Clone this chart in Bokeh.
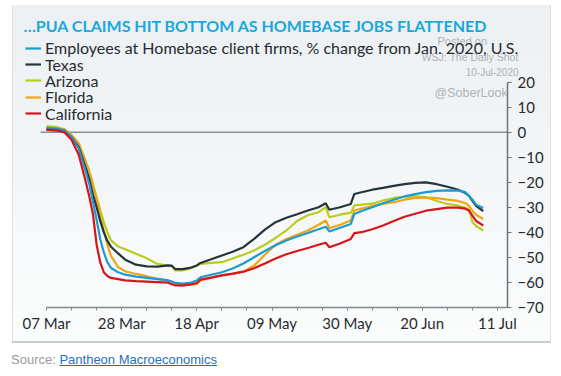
import pandas as pd
from bokeh.plotting import figure
from bokeh.models import (Range1d, FixedTicker, DatetimeTickFormatter, DatetimeAxis, LinearAxis,
                          Label, Legend, LegendItem, Div)
from bokeh.layouts import column
from bokeh.embed import file_html
from bokeh.resources import INLINE

# ---------------- data ----------------
dates = ["2020-03-07", "2020-03-10", "2020-03-12", "2020-03-14", "2020-03-16", "2020-03-18",
         "2020-03-19", "2020-03-20", "2020-03-21", "2020-03-22", "2020-03-23", "2020-03-24",
         "2020-03-25", "2020-03-27", "2020-03-29", "2020-04-01", "2020-04-04", "2020-04-07",
         "2020-04-10", "2020-04-11", "2020-04-12", "2020-04-14", "2020-04-16", "2020-04-18",
         "2020-04-19", "2020-04-22", "2020-04-25", "2020-04-28", "2020-05-01", "2020-05-04",
         "2020-05-07", "2020-05-10", "2020-05-13", "2020-05-16", "2020-05-19", "2020-05-22",
         "2020-05-24", "2020-05-25", "2020-05-28", "2020-05-31", "2020-06-01", "2020-06-03",
         "2020-06-06", "2020-06-09", "2020-06-12", "2020-06-15", "2020-06-18", "2020-06-21",
         "2020-06-24", "2020-06-27", "2020-06-30", "2020-07-02", "2020-07-03", "2020-07-04",
         "2020-07-05", "2020-07-07"]

us = [1.7, 1.4, 0.8, -1.8, -6.5, -16, -21, -28, -35, -42.7, -48, -52, -54.3, -56, -57, -57.8,
      -58.3, -58.8, -59.3, -59.7, -60.3, -60.6, -60.3, -59.3, -58, -57, -56, -54.5, -52.5, -50,
      -47.5, -45.2, -43.3, -41.7, -40.3, -38.8, -37.8, -39.7, -38.2, -36.7, -32.7, -31.5, -30,
      -28.4, -27, -25.7, -24.8, -24, -23.5, -23.3, -23.4, -24, -25.5, -27, -29, -30.3]

texas = [0.9, 0.7, 0, -2, -6, -14.5, -19, -25, -30, -35.5, -40, -43.5, -45.8, -48.5, -51, -53,
         -53.7, -53.8, -53.3, -53.4, -54.8, -54.8, -54.3, -53.3, -52.3, -50.8, -49.3, -47.8, -46,
         -42.7, -39, -36, -34.2, -32.8, -31.3, -30, -28.4, -31, -30, -28.7, -24.7, -24, -23,
         -22.3, -21.5, -20.8, -20.3, -20.1, -20.8, -21.8, -23, -24.3, -25.5, -27.5, -29.5, -31.6]

arizona = [2.4, 2, 1.2, -1.2, -4.5, -12, -16, -21, -26, -31, -36, -40, -43.3, -45.7, -46.8,
           -48.6, -50.4, -52.7, -53.5, -53.6, -55.3, -55.3, -54.6, -53.3, -52.7, -52.3, -52,
           -50.5, -49, -47.3, -45, -42.3, -39.3, -35.5, -33.2, -32, -30, -34, -33, -32.2, -29.3,
           -29, -28.6, -27.3, -26.3, -25.8, -25.7, -26, -27.5, -28.7, -29.4, -30.2, -31, -36,
           -37.5, -39.3]

florida = [1.5, 1.5, 1, -1.2, -4.5, -12, -16, -21, -27, -33, -39.5, -45, -49.5, -54, -55.6,
           -56.7, -57.6, -58.6, -59.3, -59.8, -61, -61.4, -61, -60.8, -59.3, -58.2, -57.3, -56.7,
           -55.8, -53.3, -49, -45, -42.7, -41, -39.3, -37, -35.3, -38.4, -37, -35.3, -31.3,
           -30.5, -29.5, -28.7, -28, -27, -26.3, -26.2, -26.4, -27, -27.5, -28.4, -29.5, -31.5,
           -33, -34.7]

california = [1.0, 0.8, 0, -3, -9, -20, -26, -33, -45, -52, -56, -57.5, -58.3, -58.8, -59.3,
              -59.6, -59.8, -60, -60.2, -60.8, -61.3, -61.3, -61, -60.3, -59, -58.2, -57.3,
              -56.6, -55.8, -54.4, -52.5, -50.5, -48.8, -47.5, -46.3, -45, -44.2, -46, -44.5,
              -42.7, -40.4, -40, -38.8, -37.3, -35.5, -33.8, -32.6, -31.4, -30.8, -30.2, -30.2,
              -30.6, -31.3, -33.5, -35.5, -37.3]

series_names = ["Employees at Homebase client firms, % change from Jan. 2020, U.S.",
                "Texas", "Arizona", "Florida", "California"]

tick_dates = ["2020-03-07", "2020-03-28", "2020-04-18", "2020-05-09", "2020-05-30",
              "2020-06-20", "2020-07-11"]
minor_tick_dates = ["2020-03-07", "2020-03-14", "2020-03-21", "2020-03-28", "2020-04-04",
                    "2020-04-11", "2020-04-18", "2020-04-25", "2020-05-02", "2020-05-09",
                    "2020-05-16", "2020-05-23", "2020-05-30", "2020-06-06", "2020-06-13",
                    "2020-06-20", "2020-06-27", "2020-07-04", "2020-07-11"]
y_ticks = [20, 10, 0, -10, -20, -30, -40, -50, -60, -70]
y_axis_bounds = (-70, 20)

title_text = "\u2026PUA CLAIMS HIT BOTTOM AS HOMEBASE JOBS FLATTENED"
watermark = ["Posted on", "WSJ: The Daily Shot", "10-Jul-2020", "@SoberLook"]
source_label = "Source: "
source_name = "Pantheon Macroeconomics"

# ---------------- layout / styling ----------------
colors = {"us": "#1b9bd1", "texas": "#23343b", "arizona": "#b9cd1c",
          "florida": "#f0a514", "california": "#d7141a"}
FONT = "Lato"
TEXT_COLOR = "#272b2f"
AXIS_COLOR = "#85898d"
WM_COLOR = "#aeb1b4"

origin = pd.Timestamp("2020-03-07")


def at(days):
    return origin + pd.Timedelta(minutes=round(days * 1440))


def ms(d):
    return pd.Timestamp(d).timestamp() * 1000.0


x_dates = pd.to_datetime(dates)
x_frame_start = at(-9.497)       # left edge of the panel
x_frame_end = at(141.06)         # right edge of the panel
x_axis_end = at(128.77)          # where the value axis stands
zero_line_start = at(-1.68)

p = figure(width=539, height=338, x_axis_location=None, y_axis_location=None,
           x_range=Range1d(x_frame_start, x_frame_end), y_range=Range1d(-84.52, 50.68),
           output_backend="svg", toolbar_location=None,
           min_border_left=0, min_border_right=0, min_border_top=0, min_border_bottom=0)
p.margin = (5, 10, 0, 12)
p.background_fill_alpha = 0
p.border_fill_alpha = 0
p.outline_line_color = None
p.grid.visible = False
p.styles = {"background": "linear-gradient(to bottom, #ecf0f3 0%, #f4f6f8 55%, #fbfcfc 100%)",
            "box-shadow": "inset 0 -2px 0 #c9cdd1, inset 1px 0 0 #dde1e4, inset -1px 0 0 #dde1e4"}

# x axis (fixed at the bottom of the value range)
xa = DatetimeAxis(fixed_location=y_axis_bounds[0])
xa.ticker = FixedTicker(ticks=[ms(d) for d in tick_dates],
                        minor_ticks=[ms(d) for d in minor_tick_dates])
xa.formatter = DatetimeTickFormatter(days="%d %b", months="%d %b", years="%d %b")
xa.bounds = (ms(tick_dates[0]), ms(x_axis_end))
xa.axis_line_color = AXIS_COLOR
xa.axis_line_width = 1.5
xa.major_tick_line_color = AXIS_COLOR
xa.minor_tick_line_color = AXIS_COLOR
xa.major_tick_in = 0
xa.major_tick_out = 3
xa.minor_tick_in = 0
xa.minor_tick_out = 3
xa.major_label_text_font = FONT
xa.major_label_text_font_size = "15px"
xa.major_label_text_color = TEXT_COLOR
xa.major_label_standoff = 4
p.add_layout(xa, "below")

# y axis (fixed at the right end of the time axis)
ya = LinearAxis(fixed_location=ms(x_axis_end))
ya.ticker = FixedTicker(ticks=y_ticks, minor_ticks=[])
ya.bounds = y_axis_bounds
ya.axis_line_color = "#6f7376"
ya.axis_line_width = 1.5
ya.major_tick_line_color = "#6f7376"
ya.major_tick_in = 0
ya.major_tick_out = 4
ya.minor_tick_line_color = None
ya.major_label_text_font = FONT
ya.major_label_text_font_size = "15px"
ya.major_label_text_color = TEXT_COLOR
ya.major_label_standoff = 6
p.add_layout(ya, "right")

# zero line
p.segment(x0=[zero_line_start], y0=[0], x1=[x_axis_end], y1=[0],
          line_color="#8c9094", line_width=1.6)

# series (draw order); legend order set separately
r_az = p.line(x_dates, arizona, line_color=colors["arizona"], line_width=2.2)
r_fl = p.line(x_dates, florida, line_color=colors["florida"], line_width=2.2)
r_tx = p.line(x_dates, texas, line_color=colors["texas"], line_width=2.2)
r_us = p.line(x_dates, us, line_color=colors["us"], line_width=2.2)
r_ca = p.line(x_dates, california, line_color=colors["california"], line_width=2.2)

# legend: one entry per row, each placed by its bottom-left corner (panel screen units)
legend_renderers = [r_us, r_tx, r_az, r_fl, r_ca]
legend_rows_y = [286, 269.5, 253.5, 237, 220.5]
for name, rend, ly in zip(series_names, legend_renderers, legend_rows_y):
    lg = Legend(items=[LegendItem(label=name, renderers=[rend])],
                location=(13, ly), glyph_width=16, glyph_height=16, label_height=16,
                spacing=0, padding=0, margin=0, label_standoff=4,
                border_line_alpha=0, background_fill_alpha=0,
                label_text_font=FONT, label_text_font_size="16px",
                label_text_color=TEXT_COLOR)
    p.add_layout(lg)

# title and watermark texts (screen units from the panel's bottom-left)
p.add_layout(Label(x=11, y=318, x_units="screen", y_units="screen", text=title_text,
                   text_font=FONT, text_font_style="bold", text_font_size="16px",
                   text_color="#1aa8dc", text_baseline="middle"))
p.add_layout(Label(x=425, y=303, x_units="screen", y_units="screen", text=watermark[0],
                   text_font="Liberation Sans", text_font_size="11px", text_color=WM_COLOR,
                   text_baseline="middle"))
p.add_layout(Label(x=506, y=287, x_units="screen", y_units="screen", text=watermark[1],
                   text_font="Liberation Sans", text_font_size="10.5px", text_color=WM_COLOR,
                   text_baseline="middle", text_align="right"))
p.add_layout(Label(x=506, y=271, x_units="screen", y_units="screen", text=watermark[2],
                   text_font="Liberation Sans", text_font_size="10px", text_color=WM_COLOR,
                   text_baseline="middle", text_align="right"))
p.add_layout(Label(x=422, y=251, x_units="screen", y_units="screen", text=watermark[3],
                   text_font="Liberation Sans", text_font_size="12.5px", text_color=WM_COLOR,
                   text_baseline="middle"))

src = Div(text=('<span style="color:#9a9a9a">' + source_label + '</span>'
                '<a href="#" style="color:#1f6fbf;text-decoration:underline">'
                + source_name + '</a>'),
          width=300, height=22, margin=(9, 0, 0, 11),
          styles={"font-family": "Liberation Sans, Arial, sans-serif", "font-size": "13px",
                  "line-height": "15px"})

layout = column(p, src)
layout.margin = 0
open("out.html", "w").write(file_html(layout, INLINE))
